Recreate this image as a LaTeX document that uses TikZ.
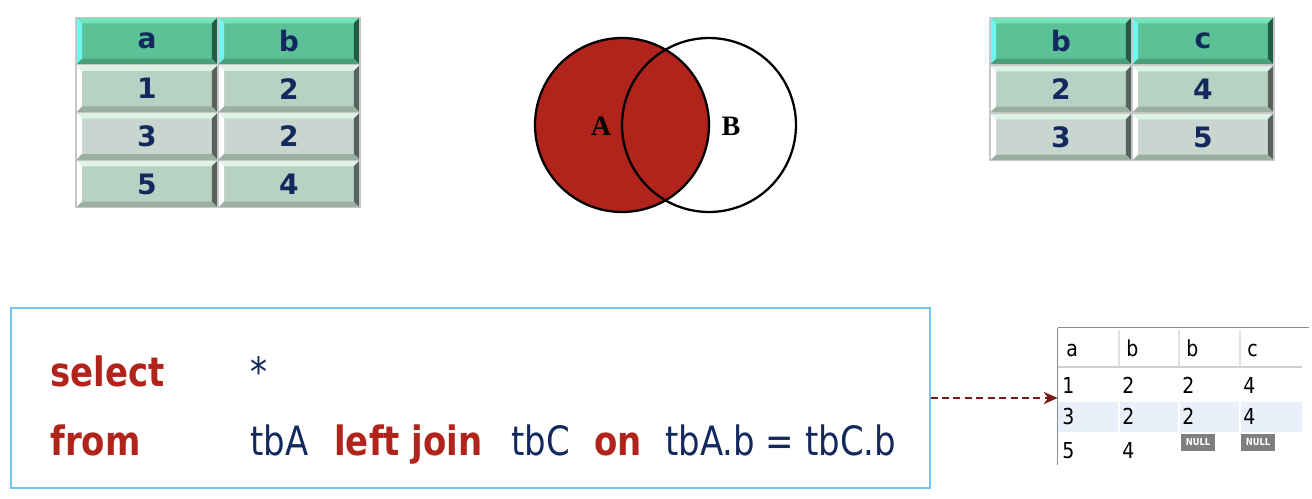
\documentclass[tikz,border=0pt]{standalone}
\usepackage{fontspec}
\setmainfont{DejaVu Sans}
\newfontfamily\codefont[FakeStretch=0.84]{DejaVu Sans}
\newfontfamily\resfont[FakeStretch=0.86]{DejaVu Sans}
\newfontfamily\vennfont{Liberation Serif}
\usetikzlibrary{arrows.meta,positioning,calc}
\definecolor{navy}{HTML}{13295E}
\definecolor{sqlred}{HTML}{B0241B}
\definecolor{arrowred}{HTML}{7B1B17}
\definecolor{boxblue}{HTML}{72C5EE}
\definecolor{hdbase}{HTML}{5CC197}
\definecolor{hdtop}{HTML}{72E6B8}
\definecolor{hdleft}{HTML}{70F5F0}
\definecolor{hddark}{HTML}{235A43}
\definecolor{hdbot}{HTML}{4C9E7B}
\definecolor{rowA}{HTML}{B7D1C4}
\definecolor{rowB}{HTML}{C8D6CF}
\definecolor{dtop}{HTML}{DDF3E8}
\definecolor{dleft}{HTML}{FFFFFF}
\definecolor{ddark}{HTML}{56625C}
\definecolor{dbot}{HTML}{9AAEA4}
\definecolor{selrow}{HTML}{EAF0FA}
\definecolor{nullgray}{HTML}{7F7F7F}
\def\ppb{path picture bounding box}
\tikzset{
  bevel/.style n args={4}{path picture={
    \fill[#1] (\ppb.north west) -- (\ppb.north east) -- ([shift={(-3.5pt,-3.5pt)}]\ppb.north east) -- ([shift={(3.5pt,-3.5pt)}]\ppb.north west) -- cycle;
    \fill[#2] (\ppb.north west) -- ([shift={(3.5pt,-3.5pt)}]\ppb.north west) -- ([shift={(3.5pt,3.5pt)}]\ppb.south west) -- (\ppb.south west) -- cycle;
    \fill[#3] (\ppb.north east) -- ([shift={(-3.5pt,-3.5pt)}]\ppb.north east) -- ([shift={(-3.5pt,3.5pt)}]\ppb.south east) -- (\ppb.south east) -- cycle;
    \fill[#4] (\ppb.south west) -- ([shift={(3.5pt,3.5pt)}]\ppb.south west) -- ([shift={(-3.5pt,3.5pt)}]\ppb.south east) -- (\ppb.south east) -- cycle;}},
  cell/.style={minimum width=2.84cm,minimum height=0.955cm,inner sep=0pt,outer sep=0pt,
    draw=black!22,line width=0.6pt,text=navy,font=\bfseries\fontsize{16}{18}\selectfont},
  hdcell/.style={cell,fill=hdbase,bevel={hdtop}{hdleft}{hddark}{hdbot}},
  datcell/.style={cell,bevel={dtop}{dleft}{ddark}{dbot}},
  kw/.style={anchor=base west,inner sep=0pt,text=sqlred,font=\codefont\bfseries\fontsize{23}{26}\selectfont},
  ident/.style={anchor=base west,inner sep=0pt,text=navy,font=\codefont\fontsize{23}{26}\selectfont},
  restxt/.style={anchor=base west,inner sep=0pt,font=\resfont\fontsize{12.5}{14}\selectfont},
  nullbadge/.style={fill=nullgray,text=white,minimum width=0.68cm,minimum height=0.34cm,inner sep=0pt,
    font=\resfont\bfseries\fontsize{5.5}{6}\selectfont},
  vlabel/.style={font=\vennfont\bfseries\fontsize{16}{18}\selectfont},
  result/.style={-{Stealth[length=8pt,width=7pt]},line width=1.3pt,draw=arrowred,dash pattern=on 4pt off 2.5pt}
}
\begin{document}
\begin{tikzpicture}[x=0.02cm,y=-0.02cm]
\useasboundingbox (0,0) rectangle (1312,498);
% table tbA
\node[hdcell] (ta-0-1) at (147,41) {a};
\node[hdcell] (ta-0-2) at (289,41) {b};
\foreach \a/\b/\c [count=\r] in {1/2/rowA,3/2/rowB,5/4/rowA} {
  \node[datcell,fill=\c] (ta-\r-1) at (147,41+47.67*\r) {\a};
  \node[datcell,fill=\c] (ta-\r-2) at (289,41+47.67*\r) {\b};
}
% table tbC
\node[hdcell] (tc-0-1) at (1061,41) {b};
\node[hdcell] (tc-0-2) at (1203,41) {c};
\foreach \a/\b/\c [count=\r] in {2/4/rowA,3/5/rowB} {
  \node[datcell,fill=\c] (tc-\r-1) at (1061,41+48*\r) {\a};
  \node[datcell,fill=\c] (tc-\r-2) at (1203,41+48*\r) {\b};
}
% venn
\fill[sqlred] (622,125) circle[radius=1.74cm];
\draw[line width=1.3pt] (622,125) circle[radius=1.74cm];
\draw[line width=1.3pt] (709,125) circle[radius=1.74cm];
\node[vlabel] (lblA) at (601,126) {A};
\node[vlabel] (lblB) at (731,126) {B};
% query
\node[draw=boxblue,line width=0.8pt,minimum width=18.38cm,minimum height=3.6cm,inner sep=0pt] (query) at (470.5,398) {};
\node[kw] (sel) at (50,386) {select};
\node[ident] (star) at (250,386) {*};
\node[kw] (from) at (50,455) {from};
\node[ident] (tba) at (250,455) {tbA};
\node[kw] (lj) at (334,455) {left join};
\node[ident] (tbc) at (511,455) {tbC};
\node[kw] (on) at (594,455) {on};
\node[ident] (cond) at (665,455) {tbA.b = tbC.b};
% result grid
\node[minimum width=4.88cm,minimum height=2.74cm,inner sep=0pt] (restab) at (1180,396.5) {};
\fill[selrow] (1058,402) rectangle (1302,432);
\foreach \x in {1119,1179,1240} {
  \draw[white,line width=1pt] (\x,402) -- (\x,432);
  \draw[black!12,line width=0.8pt] (\x,330) -- (\x,366);
}
\draw[black!18,line width=1.2pt] (1058,367) -- (1302,367);
\draw[black!45,line width=0.8pt] (restab.north west) -- ([xshift=4pt]restab.north east);
\draw[black!45,line width=0.8pt] (restab.north west) -- (restab.south west);
\foreach \t/\x in {a/1066,b/1126,b/1186,c/1247}
  \node[restxt] (h-\x) at (\x,356) {\t};
\foreach \p/\q/\s/\u/\y in {1/2/2/4/393,3/2/2/4/424}
  \node[restxt] (r-\y) at (1062,\y) {\p} node[restxt] at (1122,\y) {\q}
    node[restxt] at (1182,\y) {\s} node[restxt] at (1243,\y) {\u};
\node[restxt] (r5) at (1062,458) {5};
\node[restxt] (r4) at (1122,458) {4};
\node[nullbadge] (n1) at (1198,442) {NULL};
\node[nullbadge] (n2) at (1258,442) {NULL};
\draw[result] (query.east) -- (query.east -| restab.west);
\end{tikzpicture}
\end{document}
